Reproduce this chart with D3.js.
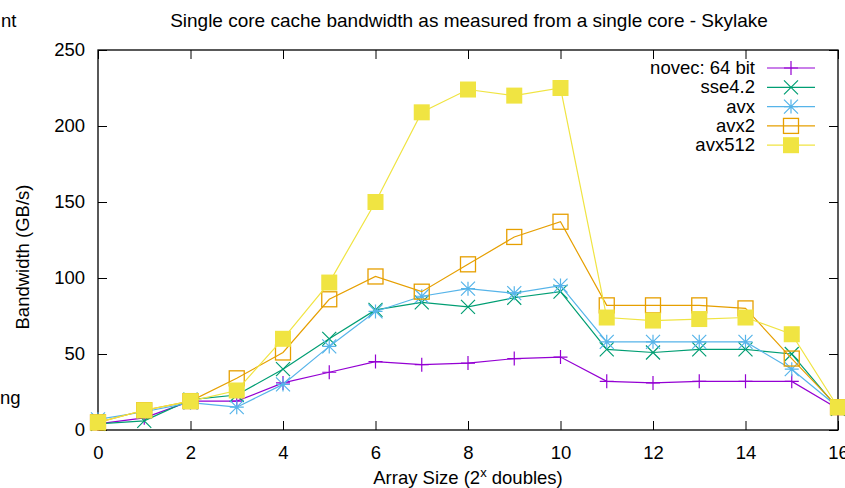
<!DOCTYPE html>
<html>
<head>
<meta charset="utf-8">
<script src="https://cdn.jsdelivr.net/npm/d3@7"></script>
<style>
  body { margin: 0; background: #fff; }
  text { font-family: "Liberation Sans", Arial, sans-serif; fill: #000; }
</style>
</head>
<body>
<div class="chart"></div>
<script>
const w = 845;
const h = 488;

// data
const sizes = d3.range(0, 17);
const novec = [4, 8, 19, 19, 31, 38, 45, 43, 44, 47, 48, 32, 31, 32, 32, 32, 14];
const sse42 = [4, 6, 20, 23, 40, 60, 79, 84, 81, 87, 91, 53, 51, 53, 53, 50, 14];
const avx = [7, 12, 18, 15, 30, 55, 78, 88, 93, 90, 95, 58, 58, 58, 58, 40, 15];
const avx2 = [5, 13, 19, 34, 51, 86, 101, 91, 109, 127, 137, 82, 82, 82, 80, 47, 15];
const avx512 = [5, 13, 19, 26, 60, 97, 150, 209, 224, 220, 225, 74, 72, 73, 74, 63, 15];

const seriesNames = ["novec: 64 bit", "sse4.2", "avx", "avx2", "avx512"];
const seriesValues = [novec, sse42, avx, avx2, avx512];
const colors = ["#9400d3", "#009e73", "#56b4e9", "#e69f00", "#f0e442"];
const markers = ["plus", "cross", "star", "box", "fillbox"];

const xTicks = d3.range(0, 17, 2);
const yTicks = [0, 50, 100, 150, 200, 250];

const m = {left: 98, right: 7, top: 50, bottom: 58};
const fs = "18.5px";

const svg = d3.select(".chart").append("svg")
    .attr("width", w)
    .attr("height", h);

const x = d3.scaleLinear().domain([0, 16]).range([m.left, w - m.right]);
const y = d3.scaleLinear().domain([0, 250]).range([h - m.bottom, m.top]);

// leftovers of neighbouring text at the left edge
svg.append("text").attr("x", 1).attr("y", 27)
    .style("font-size", fs).text("nt");
svg.append("text").attr("x", 0).attr("y", 404)
    .style("font-size", fs).text("ng");

// axes with mirrored inward ticks
const tick = 9;
const gx = svg.append("g").attr("transform", `translate(0,${y(0)})`)
    .call(d3.axisBottom(x).tickValues(xTicks).tickSizeInner(-tick).tickSizeOuter(0).tickPadding(tick + 7));
const gxTop = svg.append("g").attr("transform", `translate(0,${y(250)})`)
    .call(d3.axisTop(x).tickValues(xTicks).tickSizeInner(-tick).tickSizeOuter(0).tickFormat(""));
const gy = svg.append("g").attr("transform", `translate(${x(0)},0)`)
    .call(d3.axisLeft(y).tickValues(yTicks).tickSizeInner(-tick).tickSizeOuter(0).tickPadding(tick + 4));
const gyRight = svg.append("g").attr("transform", `translate(${x(16)},0)`)
    .call(d3.axisRight(y).tickValues(yTicks).tickSizeInner(-tick).tickSizeOuter(0).tickFormat(""));

[gx, gxTop, gy, gyRight].forEach(g => {
  g.select(".domain").remove();
  g.selectAll("line").attr("stroke", "#000").attr("stroke-width", 1);
  g.selectAll("text").style("font-size", fs).attr("font-family", null);
});

svg.append("rect")
    .attr("x", x(0)).attr("y", y(250))
    .attr("width", x(16) - x(0)).attr("height", y(0) - y(250))
    .attr("fill", "none").attr("stroke", "#000").attr("stroke-width", 1.3);

// titles
svg.append("text").attr("x", 469).attr("y", 27).attr("text-anchor", "middle")
    .style("font-size", "19px")
    .text("Single core cache bandwidth as measured from a single core - Skylake");

svg.append("text")
    .attr("transform", `translate(29,${(y(0) + y(250)) / 2 + 17}) rotate(-90)`)
    .attr("text-anchor", "middle").style("font-size", fs)
    .text("Bandwidth (GB/s)");

const xl = svg.append("text").attr("x", (x(0) + x(16)) / 2).attr("y", 484)
    .attr("text-anchor", "middle").style("font-size", fs);
xl.append("tspan").text("Array Size (2");
xl.append("tspan").attr("dy", -7).style("font-size", "13px").text("x");
xl.append("tspan").attr("dy", 7).text(" doubles)");

// marker drawing
function drawMarker(g, type, color, cx, cy) {
  const s = 7;
  if (type === "plus") {
    g.append("path").attr("d", `M${cx - s},${cy}H${cx + s}M${cx},${cy - s}V${cy + s}`)
        .attr("stroke", color).attr("stroke-width", 1.2);
  } else if (type === "cross") {
    g.append("path").attr("d", `M${cx - s},${cy - s}L${cx + s},${cy + s}M${cx - s},${cy + s}L${cx + s},${cy - s}`)
        .attr("stroke", color).attr("stroke-width", 1.2);
  } else if (type === "star") {
    g.append("path").attr("d", `M${cx - s},${cy}H${cx + s}M${cx},${cy - s}V${cy + s}` +
        `M${cx - s},${cy - s}L${cx + s},${cy + s}M${cx - s},${cy + s}L${cx + s},${cy - s}`)
        .attr("stroke", color).attr("stroke-width", 1.2);
  } else if (type === "box") {
    g.append("rect").attr("x", cx - 7.5).attr("y", cy - 7.5).attr("width", 15).attr("height", 15)
        .attr("fill", "none").attr("stroke", color).attr("stroke-width", 1.3);
  } else {
    g.append("rect").attr("x", cx - 8).attr("y", cy - 8).attr("width", 16).attr("height", 16)
        .attr("fill", color);
  }
}

const line = d3.line().x((d, i) => x(sizes[i])).y(d => y(d));

seriesValues.forEach((vals, k) => {
  const g = svg.append("g");
  g.append("path").datum(vals).attr("d", line)
      .attr("fill", "none").attr("stroke", colors[k]).attr("stroke-width", 1.2);
  vals.forEach((v, i) => drawMarker(g, markers[k], colors[k], x(sizes[i]), y(v)));

  // legend row
  const ly = 68 + k * 19.3;
  svg.append("text").attr("x", 755).attr("y", ly + 6).attr("text-anchor", "end")
      .style("font-size", fs).text(seriesNames[k]);
  svg.append("line").attr("x1", 767).attr("x2", 815).attr("y1", ly).attr("y2", ly)
      .attr("stroke", colors[k]).attr("stroke-width", 1.2);
  drawMarker(svg, markers[k], colors[k], 791, ly);
});
</script>
</body>
</html>
